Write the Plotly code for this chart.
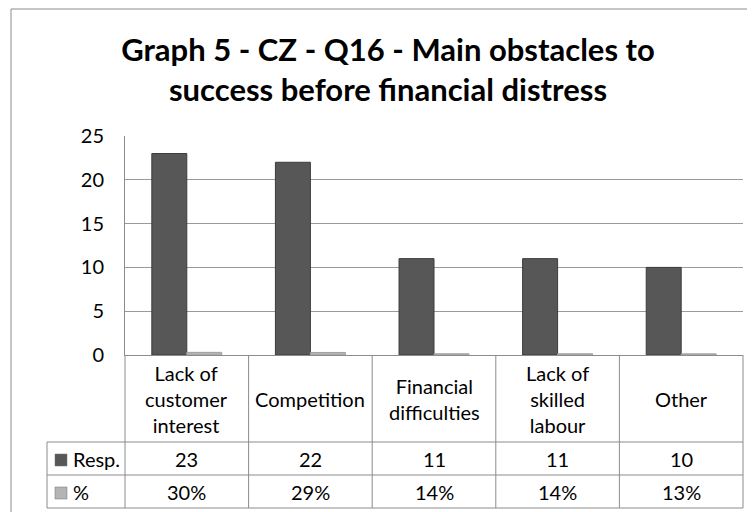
import plotly.graph_objects as go

categories = ["Lack of customer interest", "Competition", "Financial difficulties",
              "Lack of skilled labour", "Other"]
header_labels = ["Lack of<br>customer<br>interest", "Competition", "Financial<br>difficulties",
                 "Lack of<br>skilled<br>labour", "Other"]
responses = [23, 22, 11, 11, 10]
shares = [0.30, 0.29, 0.14, 0.14, 0.13]
y_ticks = [0, 5, 10, 15, 20, 25]

# page is shown with an 8px body margin, so layout is worked out in page pixels
OFF = 8
W, H = 755, 512
ML, MT = 125 - OFF, 136 - OFF
PW, PH = 618, 219
MR, MB = W - ML - PW, H - MT - PH
FONT = "Lato"
GRID = "#9a9a9a"
LINE = "#8c8c8c"
DARK = "#575757"
LIGHT = "#b4b4b4"
TXT = dict(size=20, color="#000000", family=FONT)


def px(x):
    return (x - OFF - ML) / PW


def py(y):
    return (MT + PH + OFF - y) / PH


fig = go.Figure()
fig.add_bar(x=categories, y=responses, name="Resp.",
            marker=dict(color=DARK, line=dict(color="#3c3c3c", width=1)))
fig.add_bar(x=categories, y=shares, name="%",
            marker=dict(color=LIGHT, line=dict(color="#a0a0a0", width=1)))

n = len(categories)
shapes = []
# data table grid under the plot
for i in range(n + 1):
    shapes.append(dict(type="line", xref="paper", yref="paper", x0=i / n, x1=i / n,
                       y0=py(355), y1=py(508), line=dict(color=LINE, width=1)))
shapes.append(dict(type="line", xref="paper", yref="paper", x0=px(47), x1=px(47),
                   y0=py(442), y1=py(508), line=dict(color=LINE, width=1)))
for ry in [442, 475, 508]:
    shapes.append(dict(type="line", xref="paper", yref="paper", x0=px(47), x1=1,
                       y0=py(ry), y1=py(ry), line=dict(color=LINE, width=1)))
# legend keys
for yc, col in [(460, DARK), (493, LIGHT)]:
    shapes.append(dict(type="rect", xref="paper", yref="paper", x0=px(55), x1=px(67),
                       y0=py(yc - 6), y1=py(yc + 6), fillcolor=col,
                       line=dict(color="#707070", width=0.5)))
# chart frame
shapes.append(dict(type="rect", xref="paper", yref="paper", x0=px(11), x1=px(780),
                   y0=py(9), y1=py(540), line=dict(color=LINE, width=1), layer="below"))

annotations = []
for cat, lab, r, s in zip(categories, header_labels, responses, shares):
    annotations.append(dict(x=cat, xref="x", y=py(399), yref="paper", yanchor="middle",
                            text=lab, showarrow=False, font=TXT, align="center"))
    annotations.append(dict(x=cat, xref="x", y=py(459), yref="paper", yanchor="middle",
                            text=str(r), showarrow=False, font=TXT))
    annotations.append(dict(x=cat, xref="x", y=py(492), yref="paper", yanchor="middle",
                            text=f"{s:.0%}", showarrow=False, font=TXT))
for label, yy in [("Resp.", 459), ("%", 492)]:
    annotations.append(dict(x=px(71), xref="paper", xanchor="left", y=py(yy), yref="paper",
                            yanchor="middle", text=label, showarrow=False, font=TXT))

fig.update_layout(
    width=W, height=H,
    margin=dict(l=ML, r=MR, t=MT, b=MB),
    paper_bgcolor="white", plot_bgcolor="white",
    title=dict(text="<b>Graph 5 - CZ - Q16 - Main obstacles to<br>success before financial distress</b>",
               x=px(388), xanchor="center", xref="paper",
               y=1 - (61 - OFF) / H, yanchor="middle",
               font=dict(size=31, color="#000000", family=FONT)),
    showlegend=False,
    barmode="group", bargap=0.434, bargroupgap=0,
    xaxis=dict(showticklabels=False, showgrid=False, showline=True, linecolor=LINE,
               linewidth=1, ticks="", zeroline=False),
    yaxis=dict(range=[0, 25], tickvals=y_ticks, showgrid=True, gridcolor=GRID, gridwidth=1,
               showline=True, linecolor=LINE, linewidth=1, zeroline=False, ticks="",
               ticklabelstandoff=16, tickfont=TXT),
    shapes=shapes,
    annotations=annotations,
    font=dict(family=FONT),
)

fig.write_html("out.html")
